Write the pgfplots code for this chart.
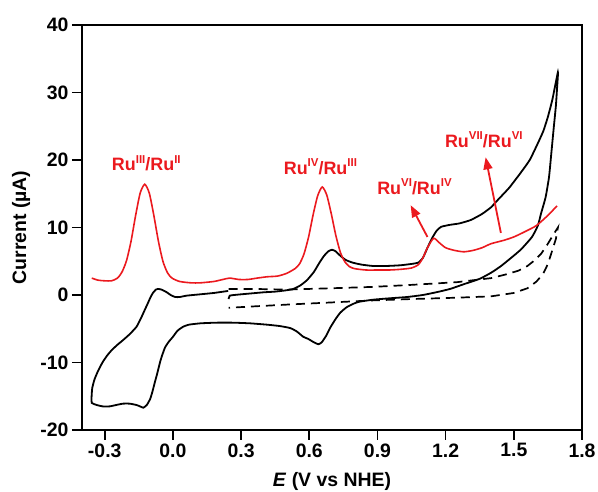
\documentclass[border=0pt]{standalone}
\usepackage{fontspec}
\setmainfont{Liberation Sans}
\usepackage{pgfplots}
\pgfplotsset{compat=1.18}
\usetikzlibrary{arrows.meta}

\definecolor{dpvred}{RGB}{235,25,30}
\newcommand\sups[1]{\raisebox{0.8ex}{\fontsize{11.5}{11.5}\selectfont #1}}

\begin{document}
\begin{tikzpicture}
\begin{axis}[
  scale only axis,
  width=500bp, height=405bp,
  xmin=-0.40, xmax=1.8,
  ymin=-20, ymax=40,
  xtick={-0.3,0,0.3,0.6,0.9,1.2,1.5,1.8},
  ytick={-20,-10,0,10,20,30,40},
  xtick pos=lower, ytick pos=left,
  tick align=outside,
  major tick length=10bp,
  axis line style={line width=1.6bp},
  every tick/.style={black, line width=1.6bp},
  /pgf/number format/assume math mode=true,
  xticklabel style={/pgf/number format/.cd, fixed, fixed zerofill, precision=1},
  tick label style={font=\bfseries\fontsize{19.5}{19.5}\selectfont},
  every axis x label/.style={at={([yshift=-51bp]axis description cs:0.5,0)}, anchor=center},
  every axis y label/.style={at={([xshift=-61bp]axis description cs:0,0.5)}, anchor=center, rotate=90},
  label style={font=\bfseries\fontsize{19.5}{19.5}\selectfont},
  xlabel={\textit{E} (V vs NHE)},
  ylabel={Current (\textmu A)},
]
\coordinate (sw) at (rel axis cs:0,0);
\coordinate (ne) at (rel axis cs:1,1);

% blank electrolyte CV
\addplot[black, line width=1.7bp, dash pattern=on 9bp off 6bp] coordinates {
 (0.245,0.9) (0.35,0.9) (0.5,0.8) (0.7,1.0) (0.88,1.2) (1.05,1.5) (1.25,1.9)
 (1.35,2.3) (1.40,2.5) (1.46,3.0) (1.52,3.6) (1.56,4.3) (1.59,5.1) (1.62,6.1)
 (1.65,7.6) (1.675,9.0) (1.694,10.0)
 (1.685,8.3) (1.67,6.7) (1.65,4.6) (1.63,3.2) (1.60,2.0) (1.56,1.0) (1.50,0.3)
 (1.40,-0.2) (1.25,-0.4) (1.05,-0.6) (0.88,-0.8) (0.7,-1.1) (0.516,-1.4)
 (0.35,-1.7) (0.245,-1.9)};

% CV of the complex
\addplot[black, line width=1.8bp, smooth, tension=0.3] coordinates {
 (0.245,-0.6) (0.25,-0.1) (0.27,0.0) (0.3,0.1) (0.35,0.25) (0.4,0.4) (0.45,0.5)
 (0.5,0.7) (0.53,0.9) (0.56,1.4) (0.59,2.2) (0.62,3.4) (0.645,4.8) (0.665,5.8)
 (0.685,6.5) (0.70,6.7) (0.715,6.5) (0.737,5.8) (0.76,5.2) (0.79,4.8) (0.83,4.5)
 (0.88,4.3) (0.94,4.3) (1.0,4.4) (1.05,4.6) (1.08,4.8) (1.10,5.5) (1.12,7.0)
 (1.14,8.4) (1.16,9.5) (1.18,10.1) (1.22,10.4) (1.26,10.6) (1.31,11.1)
 (1.36,12.0) (1.40,13.0) (1.43,14.1) (1.48,15.9) (1.53,18.1) (1.57,20.0)
 (1.606,22.5) (1.63,24.3) (1.65,26.4) (1.67,29.0) (1.694,33.0)
 (1.69,30.5) (1.685,28.0) (1.676,24.9) (1.665,21.0) (1.655,17.5) (1.64,14.5)
 (1.62,12.1) (1.606,10.3) (1.58,8.6) (1.53,6.7) (1.47,5.0) (1.44,4.2) (1.40,3.3)
 (1.35,2.4) (1.28,1.6) (1.22,0.9) (1.165,0.45) (1.10,0.0) (1.03,-0.3) (0.95,-0.5)
 (0.88,-0.7) (0.82,-1.0) (0.794,-1.3) (0.765,-1.8) (0.737,-2.6) (0.715,-3.6)
 (0.693,-4.8) (0.675,-6.0) (0.655,-7.0) (0.64,-7.3) (0.62,-7.0) (0.595,-6.5)
 (0.574,-6.2) (0.545,-5.4) (0.516,-4.9) (0.47,-4.6) (0.415,-4.4) (0.34,-4.2)
 (0.265,-4.1) (0.19,-4.1) (0.12,-4.2) (0.07,-4.4) (0.045,-4.7) (0.02,-5.3)
 (0.0,-6.2) (-0.02,-7.0) (-0.035,-7.8) (-0.048,-9.0) (-0.057,-10.0)
 (-0.068,-11.5) (-0.08,-13.0) (-0.09,-14.3) (-0.10,-15.4) (-0.115,-16.3)
 (-0.13,-16.7) (-0.145,-16.5) (-0.16,-16.3) (-0.19,-16.1) (-0.22,-16.1)
 (-0.25,-16.3) (-0.278,-16.5) (-0.31,-16.5) (-0.335,-16.3) (-0.357,-16.0)
 (-0.358,-15.2) (-0.355,-13.8) (-0.345,-12.5) (-0.33,-11.3) (-0.31,-10.0)
 (-0.29,-9.0) (-0.27,-8.2) (-0.245,-7.4) (-0.22,-6.7) (-0.19,-5.8) (-0.16,-4.7)
 (-0.14,-3.4) (-0.125,-2.3) (-0.11,-1.2) (-0.098,-0.3) (-0.088,0.3) (-0.075,0.8)
 (-0.066,0.9) (-0.05,0.8) (-0.027,0.4) (-0.01,0.0) (0.01,-0.3) (0.03,-0.3)
 (0.06,-0.1) (0.12,0.1) (0.18,0.3) (0.243,0.6)};

% DPV
\addplot[dpvred, line width=1.6bp, smooth, tension=0.4] coordinates {
 (-0.357,2.5) (-0.33,2.2) (-0.30,2.1) (-0.27,2.1) (-0.244,2.5) (-0.224,3.4)
 (-0.204,5.1) (-0.184,8.0) (-0.164,11.8) (-0.144,15.1) (-0.124,16.4)
 (-0.104,15.1) (-0.084,11.8) (-0.064,8.0) (-0.044,5.0) (-0.024,3.3) (-0.004,2.5)
 (0.03,2.0) (0.08,1.8) (0.12,1.8) (0.18,2.0) (0.22,2.3) (0.25,2.5) (0.29,2.3)
 (0.33,2.3) (0.37,2.5) (0.415,2.7) (0.46,2.8) (0.50,3.2) (0.537,3.9) (0.557,4.6)
 (0.577,6.1) (0.597,8.6) (0.617,11.9) (0.637,14.7) (0.657,16.0) (0.677,14.8)
 (0.697,12.0) (0.717,8.8) (0.737,6.3) (0.757,4.9) (0.777,4.2) (0.80,3.9)
 (0.85,3.7) (0.9,3.7) (0.95,3.7) (1.0,3.8) (1.05,4.0) (1.08,4.5) (1.10,5.5)
 (1.12,7.0) (1.147,8.4) (1.17,7.8) (1.2,7.0) (1.24,6.6) (1.28,6.4) (1.32,6.6)
 (1.36,7.0) (1.40,7.6) (1.456,8.1) (1.50,8.6) (1.55,9.4) (1.60,10.3)
 (1.65,11.8) (1.69,13.2)};

\draw[dpvred, line width=1.8bp, -{Triangle[length=12bp,width=9bp]}]
  (axis cs:1.12,8.6) -- (axis cs:1.046,13.3);
\draw[dpvred, line width=1.8bp, -{Triangle[length=12bp,width=9bp]}]
  (axis cs:1.443,9.2) -- (axis cs:1.376,20.4);

\begin{scope}[every node/.style={text=dpvred, font=\bfseries\fontsize{18}{18}\selectfont, inner sep=0pt}]
\node at (axis cs:-0.117,19.5) {Ru\sups{III}/Ru\sups{II}};
\node at (axis cs:0.649,19.0) {Ru\sups{IV}/Ru\sups{III}};
\node at (axis cs:1.063,16.0) {Ru\sups{VI}/Ru\sups{IV}};
\node at (axis cs:1.368,23.0) {Ru\sups{VII}/Ru\sups{VI}};
\end{scope}
\end{axis}
\pgfresetboundingbox
\path[use as bounding box] ([shift={(-82bp,-62bp)}]sw) rectangle ([shift={(16bp,25bp)}]ne);
\end{tikzpicture}
\end{document}
